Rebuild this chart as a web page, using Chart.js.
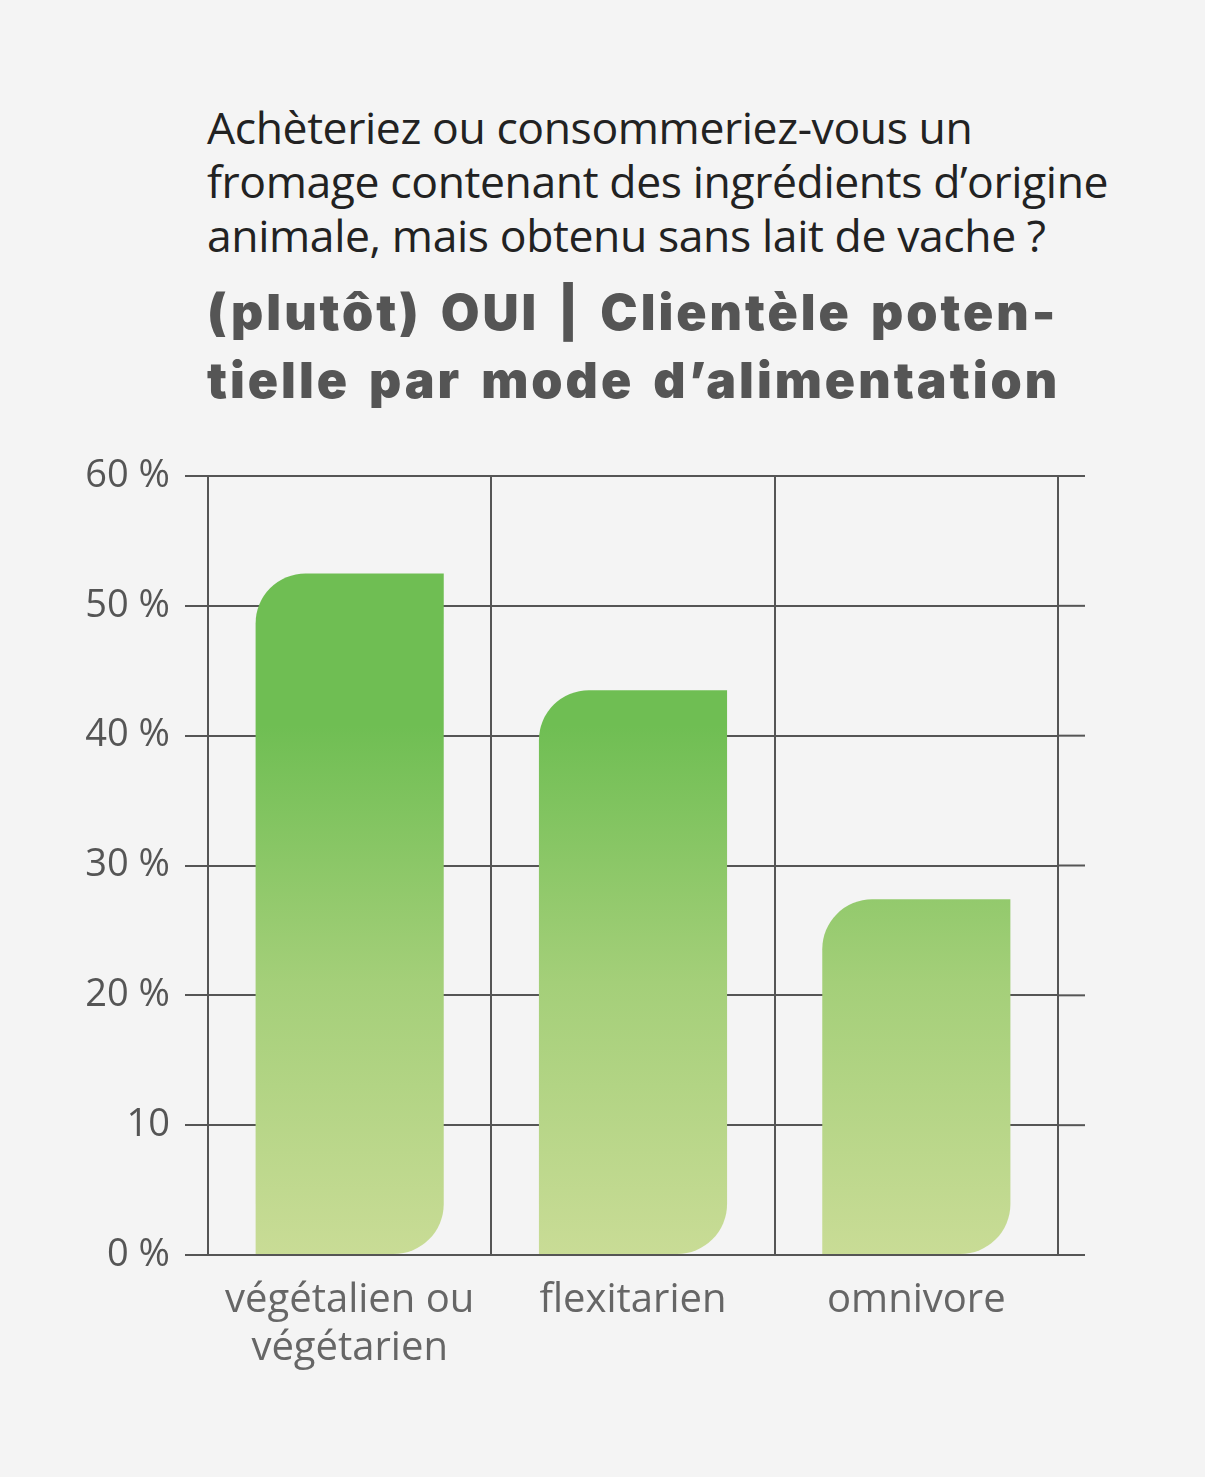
<!DOCTYPE html>
<html><head><meta charset="utf-8">
<script src="https://cdn.jsdelivr.net/npm/chart.js@4"></script>
<style>
html,body{margin:0;background:#f4f4f4;width:1205px;height:1477px;overflow:hidden;font-family:"Open Sans",sans-serif}
#t1{position:absolute;left:207px;top:100px;font-size:44.5px;line-height:54px;color:#222;letter-spacing:-0.4px}
#t2{position:absolute;left:207px;top:278px;font-family:Inter,sans-serif;font-weight:900;font-size:50px;line-height:68px;color:#555;letter-spacing:3px;word-spacing:6px}
canvas{position:absolute;left:0;top:0}
</style></head><body>
<div id="t1">Achèteriez ou consommeriez-vous un<br>fromage contenant des ingrédients d’origine<br>animale, mais obtenu sans lait de vache ?</div>
<div id="t2">(plutôt) OUI | Clientèle poten-<br>tielle par mode d’alimentation</div>
<canvas id="c" width="1205" height="1477"></canvas>
<script>
const categories=[["végétalien ou","végétarien"],"flexitarien","omnivore"];
const values=[52.5,43.5,27.4];
const tickLabels={0:"0 %",10:"10",20:"20 %",30:"30 %",40:"40 %",50:"50 %",60:"60 %"};
const extend={id:'ext',afterDraw(c){const y=c.scales.y,ctx=c.ctx,r=c.chartArea.right;ctx.save();ctx.strokeStyle='#555';ctx.lineWidth=2;
y.ticks.forEach(t=>{const p=y.getPixelForValue(t.value);ctx.beginPath();ctx.moveTo(r,p);ctx.lineTo(r+27,p);ctx.stroke();});ctx.restore();}};
new Chart(document.getElementById('c'),{type:'bar',
data:{labels:categories,datasets:[{data:values,
backgroundColor(ctx){const a=ctx.chart.chartArea;if(!a)return '#8fc66a';const g=ctx.chart.ctx.createLinearGradient(0,a.bottom,0,a.top);
g.addColorStop(0,'#c9dc96');g.addColorStop(0.35,'#a4cf79');g.addColorStop(0.68,'#6fbe53');g.addColorStop(1,'#6fbe53');return g;},
borderRadius:{topLeft:50,bottomRight:50,topRight:0,bottomLeft:0},borderSkipped:false,
categoryPercentage:0.664,barPercentage:1}]},
options:{responsive:false,animation:false,devicePixelRatio:1,
layout:{padding:{left:0,right:147,top:476,bottom:72}},
plugins:{legend:{display:false},tooltip:{enabled:false}},
scales:{
x:{offset:true,grid:{offset:true,color:'#555',lineWidth:2,tickLength:0,drawTicks:false},border:{display:false},
ticks:{color:'#666',font:{family:'Open Sans',size:40},padding:22,maxRotation:0},
afterFit(s){s.height=150;}},
y:{min:0,max:60,grid:{color:'#555',lineWidth:2,tickLength:23},border:{display:false},
ticks:{stepSize:10,color:'#555',font:{family:'Open Sans',size:38},padding:15,callback:v=>tickLabels[v]},
afterFit(s){s.width=208;}}}},
plugins:[extend]});
</script></body></html>
